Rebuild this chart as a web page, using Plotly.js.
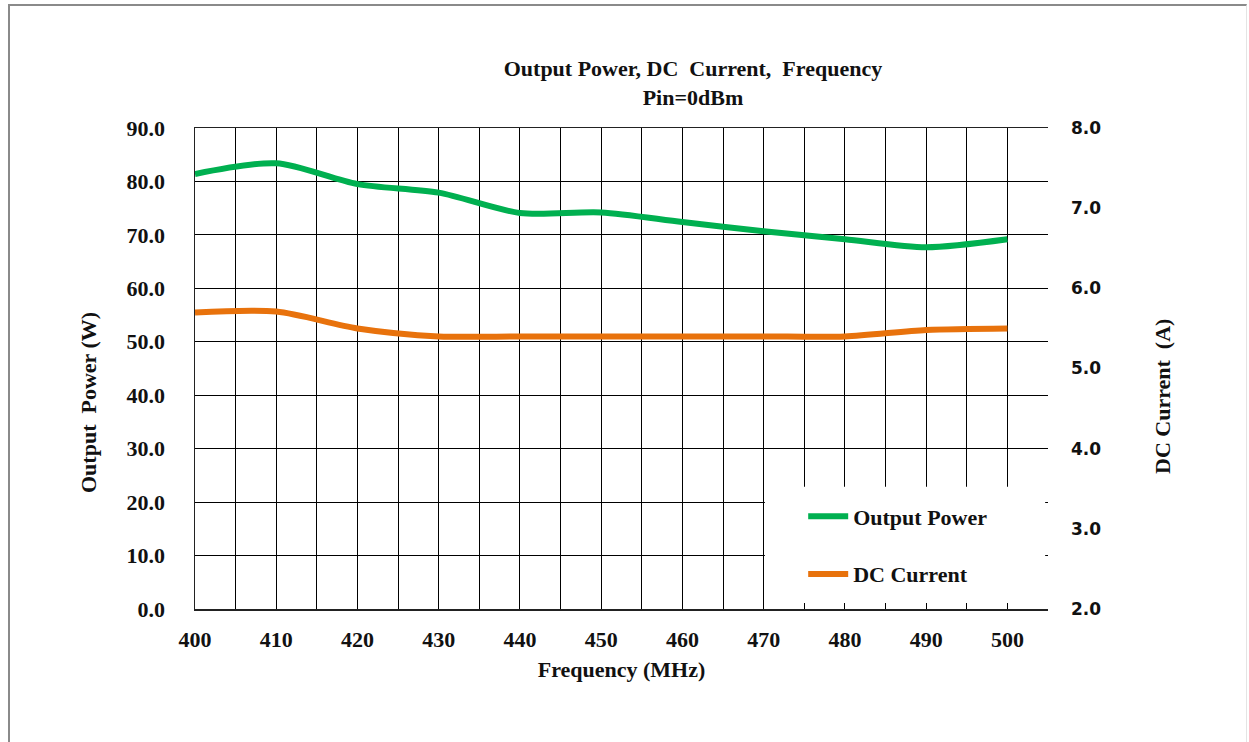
<!DOCTYPE html>
<html>
<head>
<meta charset="utf-8">
<script src="https://cdn.plot.ly/plotly-3.0.1.min.js"></script>
<style>
html,body{margin:0;padding:0;background:#fff;}
#wrap{position:relative;width:1249px;height:742px;overflow:hidden;}
#chart{position:absolute;left:0;top:0;width:1249px;height:742px;}
#frame{position:absolute;left:8px;top:4px;width:1236px;height:760px;border-left:2px solid #8a8a8a;border-top:2px solid #8a8a8a;border-right:1px solid #e4e4e4;pointer-events:none;}
</style>
</head>
<body>
<div id="wrap"><div id="chart"></div><div id="frame"></div></div>
<script>
const frequency = [400, 410, 420, 430, 440, 450, 460, 470, 480, 490, 500];
const outputPower = [81.4, 83.4, 79.5, 77.9, 74.1, 74.2, 72.4, 70.7, 69.2, 67.7, 69.2];
const dcCurrent = [5.70, 5.71, 5.50, 5.40, 5.40, 5.40, 5.40, 5.40, 5.40, 5.48, 5.50];
const xTicks = [400, 410, 420, 430, 440, 450, 460, 470, 480, 490, 500];
const seriesNames = ['Output Power', 'DC Current'];
const seriesColors = ['#00b050', '#e8720c'];

const serif = 'Liberation Serif, Times New Roman, serif';
const sans = 'DejaVu Sans, sans-serif';

const traces = [
  {x: frequency, y: outputPower, name: seriesNames[0], type: 'scatter', mode: 'lines',
   line: {color: seriesColors[0], width: 6, shape: 'spline', smoothing: 0.8}, yaxis: 'y', legendgroup: 'a'},
  {x: frequency, y: dcCurrent, name: seriesNames[1], type: 'scatter', mode: 'lines',
   line: {color: seriesColors[1], width: 6, shape: 'spline', smoothing: 0.8}, yaxis: 'y2', legendgroup: 'b'}
];

const titleFont = {family: serif, size: 22, color: '#111', weight: 'bold'};

const layout = {
  width: 1249, height: 742,
  margin: {l: 195, r: 201, t: 128, b: 133},
  paper_bgcolor: '#ffffff', plot_bgcolor: '#ffffff',
  title: {
    text: 'Output Power,\u00a0DC\u00a0\u00a0Current,\u00a0\u00a0Frequency<br>Pin=0dBm',
    font: {family: serif, size: 22, color: '#111', weight: 'bold'},
    xref: 'container', x: 0.5548, xanchor: 'center',
    yref: 'container', y: 0.897, yanchor: 'top'
  },
  xaxis: {
    range: [400, 505], tickvals: xTicks, ticktext: xTicks.map(String),
    showgrid: true, gridcolor: '#000', gridwidth: 1,
    minor: {dtick: 5, tick0: 400, showgrid: true, gridcolor: '#000', gridwidth: 1, ticks: 'inside', ticklen: 5, tickcolor: '#000'},
    ticks: 'inside', ticklen: 5, tickcolor: '#000',
    showline: true, linecolor: '#222', linewidth: 1.5, mirror: true,
    zeroline: false,
    tickfont: {family: serif, size: 22, color: '#111', weight: 'bold'},
    ticklabelstandoff: 10,
    title: {text: 'Frequency (MHz)', font: titleFont, standoff: 10}
  },
  yaxis: {
    range: [0, 90], dtick: 10, tick0: 0, tickformat: '.1f',
    showgrid: true, gridcolor: '#000', gridwidth: 1,
    showline: true, linecolor: '#222', linewidth: 1.5,
    zeroline: false, ticks: '',
    tickfont: {family: serif, size: 22, color: '#111', weight: 'bold'},
    ticklabelstandoff: 24
  },
  yaxis2: {
    range: [2, 8], dtick: 1, tick0: 2, tickformat: '.1f',
    overlaying: 'y', side: 'right', showgrid: false, zeroline: false,
    showline: false, ticks: '',
    tickfont: {family: sans, size: 17, color: '#111', weight: 'bold'},
    ticklabelstandoff: 22
  },
  annotations: [
    {text: 'Output\u00a0\u00a0Power (W)', xref: 'paper', yref: 'paper', x: (88 - 195) / 853, y: (609 - 403) / 481,
     xanchor: 'center', yanchor: 'middle', textangle: -90, showarrow: false, font: titleFont},
    {text: 'DC Current\u00a0\u00a0(A)', xref: 'paper', yref: 'paper', x: (1162 - 195) / 853, y: (609 - 397) / 481,
     xanchor: 'center', yanchor: 'middle', textangle: -90, showarrow: false, font: titleFont}
  ],
  shapes: [
    {type: 'rect', xref: 'x', yref: 'paper', x0: 470.15, x1: 504.65, y0: 0.0125, y1: 0.254,
     fillcolor: '#ffffff', line: {width: 0}, layer: 'above'}
  ],
  showlegend: true,
  legend: {
    x: 0.713, y: 0.236, xanchor: 'left', yanchor: 'top',
    bgcolor: 'rgba(0,0,0,0)', borderwidth: 0,
    font: {family: serif, size: 22, color: '#111', weight: 'bold'},
    tracegroupgap: 26, itemwidth: 40
  }
};

Plotly.newPlot('chart', traces, layout, {staticPlot: true, displayModeBar: false});
</script>
</body>
</html>
